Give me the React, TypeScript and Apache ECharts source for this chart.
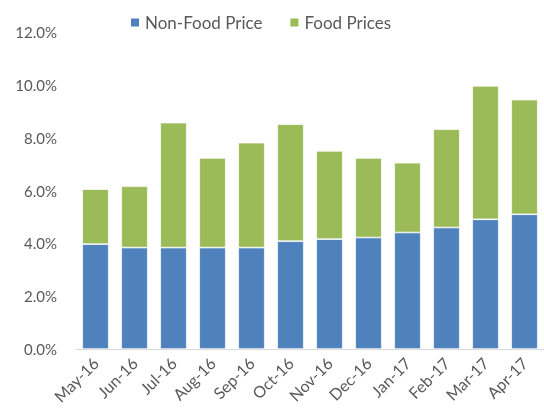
import React, { useEffect, useRef } from "react";
import * as echarts from "echarts";

const categories = ["May-16", "Jun-16", "Jul-16", "Aug-16", "Sep-16", "Oct-16", "Nov-16", "Dec-16", "Jan-17", "Feb-17", "Mar-17", "Apr-17"];
const nonFood = [3.97, 3.84, 3.84, 3.84, 3.84, 4.08, 4.16, 4.22, 4.41, 4.6, 4.91, 5.1];
const food = [2.08, 2.32, 4.73, 3.39, 3.97, 4.43, 3.34, 3.01, 2.64, 3.72, 5.05, 4.34];
const seriesNames = ["Non-Food Price", "Food Prices"];

const FONT = "Lato, 'Open Sans', sans-serif";

export default function App() {
  const ref = useRef<HTMLDivElement>(null);
  useEffect(() => {
    if (!ref.current) return;
    const chart = echarts.init(ref.current, null, { renderer: "svg" });
    chart.setOption({
      animation: false,
      textStyle: { fontFamily: FONT },
      legend: {
        top: 9,
        left: 124,
        itemWidth: 10,
        itemHeight: 10,
        itemGap: 26,
        icon: "rect",
        textStyle: { color: "#595959", fontSize: 17, fontFamily: FONT },
        data: seriesNames,
      },
      grid: { left: 76, right: -6, top: 32, bottom: 65, containLabel: false },
      xAxis: {
        type: "category",
        data: categories,
        axisLine: { show: true, lineStyle: { color: "#d9d9d9", width: 1 } },
        axisTick: { show: false },
        axisLabel: { rotate: 45, color: "#595959", fontSize: 16, fontFamily: FONT, margin: 11, interval: 0 },
      },
      yAxis: {
        type: "value",
        min: 0,
        max: 12,
        interval: 2,
        splitLine: { show: false },
        axisLine: { show: false },
        axisTick: { show: false },
        axisLabel: {
          color: "#595959",
          fontSize: 15,
          fontFamily: FONT,
          margin: 19,
          formatter: (v: number) => v.toFixed(1) + "%",
        },
      },
      series: [
        {
          name: seriesNames[0],
          type: "bar",
          stack: "total",
          data: nonFood,
          barCategoryGap: "32%",
          itemStyle: { color: "#4F81BD", borderColor: "#ffffff", borderWidth: 0.7 },
        },
        {
          name: seriesNames[1],
          type: "bar",
          stack: "total",
          data: food,
          barCategoryGap: "32%",
          itemStyle: { color: "#9BBB59", borderColor: "#ffffff", borderWidth: 0.7 },
        },
      ],
    });
    return () => chart.dispose();
  }, []);
  return <div ref={ref} style={{ position: "fixed", left: 0, top: 0, width: 544, height: 414 }} />;
}
